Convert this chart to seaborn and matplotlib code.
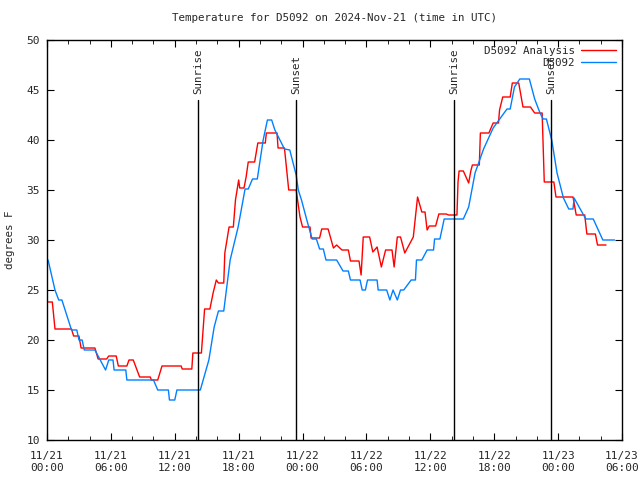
import matplotlib
matplotlib.use("Agg")
import matplotlib.pyplot as plt
import matplotlib.dates as mdates
import pandas as pd
import seaborn as sns

start = pd.Timestamp("2024-11-21 00:00")

# hours since 11/21 00:00 UTC and temperature (F)
obs_hours = [0.1, 0.75, 1.1, 1.4, 2.0, 2.3, 2.8, 3.0, 3.3, 3.5, 4.5, 5.5, 5.8, 6.2, 6.3, 7.4, 7.5, 10.0,
             10.4, 11.4, 11.5, 12.0, 12.2, 14.4, 15.2, 15.7, 16.1, 16.6, 17.2, 17.95, 18.6, 18.9, 19.3,
             19.75, 20.3, 20.7, 21.1, 21.4, 22.3, 22.8, 23.4, 23.6, 23.9, 24.4, 24.9, 25.3, 25.6, 25.95,
             26.2, 27.2, 27.8, 28.3, 28.5, 29.4, 29.6, 29.9, 30.1, 31.0, 31.1, 31.9, 32.2, 32.5, 32.9,
             33.2, 33.5, 34.2, 34.6, 34.7, 35.2, 35.7, 36.3, 36.4, 36.9, 37.3, 39.1, 39.6, 40.2, 41.0,
             41.9, 43.2, 43.5, 43.9, 44.4, 45.3, 45.8, 46.3, 46.6, 46.9, 47.4, 47.9, 48.5, 49.0, 49.4,
             49.5, 50.6, 51.3, 52.2, 53.3]
obs_temp = [28, 25, 24, 24, 22, 21, 21, 20, 20, 19, 19, 17, 18, 18, 17, 17, 16, 16,
            15, 15, 14, 14, 15, 15, 18, 21.3, 22.9, 22.9, 28, 31.3, 35.1, 35.1, 36.1,
            36.1, 40, 42, 42, 41, 39.1, 39, 36.5, 35, 34, 32, 30.1, 30.1, 29.1, 29.1,
            28, 28, 26.9, 26.9, 26, 26, 25, 25, 26, 26, 25, 25, 24, 25, 24,
            25, 25, 26, 26, 28, 28, 29, 29, 30.1, 30.1, 32.1, 32.1, 33.3, 36.7, 39.1,
            41.2, 43.1, 43.1, 45.3, 46.1, 46.1, 44.1, 42.7, 42.1, 42.1, 40, 36.7, 34.2, 33.1, 33.1,
            34.2, 32.1, 32.1, 30, 30]

ana_hours = [0.1, 0.5, 0.75, 2.3, 2.5, 3.0, 3.2, 4.5, 4.8, 5.6, 5.8, 6.5, 6.7, 7.5, 7.7, 8.1, 8.7, 9.7,
             9.8, 10.4, 10.8, 12.6, 12.7, 13.6, 13.7, 14.5, 14.8, 15.3, 15.6, 15.9, 16.1, 16.6, 16.7,
             17.1, 17.5, 17.7, 18.0, 18.1, 18.5, 18.7, 18.9, 19.5, 19.8, 20.5, 20.6, 21.6, 21.7, 22.3,
             22.7, 23.4, 23.76, 24.0, 24.7, 24.8, 25.6, 25.8, 26.4, 26.9, 27.2, 27.7, 28.3, 28.5, 29.3,
             29.5, 29.7, 30.3, 30.6, 31.0, 31.4, 31.8, 32.4, 32.6, 32.9, 33.2, 33.6, 34.4, 34.8, 35.2,
             35.5, 35.7, 35.9, 36.5, 36.8, 37.5, 37.7, 38.5, 38.6, 38.7, 39.1, 39.6, 39.8, 39.95, 40.6,
             40.7, 41.5, 41.9, 42.4, 42.5, 42.8, 43.5, 43.7, 44.3, 44.7, 45.4, 45.8, 46.5, 46.7, 47.6,
             47.8, 49.4, 49.7, 50.5, 50.7, 51.5, 51.7, 52.5]
ana_temp = [23.8, 23.8, 21.1, 21.1, 20.4, 20.4, 19.2, 19.2, 18.1, 18.1, 18.4, 18.4, 17.4, 17.4, 18, 18, 16.3, 16.3,
            16, 16, 17.4, 17.4, 17.1, 17.1, 18.7, 18.7, 23.1, 23.1, 24.7, 26, 25.7, 25.7, 28.7,
            31.3, 31.3, 34, 36, 35.2, 35.2, 36.3, 37.8, 37.8, 39.7, 39.7, 40.7, 40.7, 39.2, 39.2,
            35, 35, 32.3, 31.3, 31.3, 30.2, 30.2, 31.1, 31.1, 29.2, 29.5, 29, 29, 27.9, 27.9,
            26.5, 30.3, 30.3, 28.8, 29.3, 27.3, 29, 29, 27.3, 30.3, 30.3, 28.7, 30.3, 34.3, 32.8,
            32.8, 31, 31.4, 31.4, 32.6, 32.6, 32.5, 32.5, 35.8, 36.9, 36.9, 35.7, 36.9, 37.5, 37.5,
            40.7, 40.7, 41.7, 41.7, 43, 44.3, 44.3, 45.7, 45.7, 43.3, 43.3, 42.7, 42.7, 35.8, 35.8,
            34.3, 34.3, 32.5, 32.5, 30.6, 30.6, 29.5, 29.5]

sun_hours = [14.18, 23.38, 38.22, 47.33]
sun_labels = ["Sunrise", "Sunset", "Sunrise", "Sunset"]

ana = pd.DataFrame({"time": start + pd.to_timedelta(ana_hours, unit="h"), "temp": ana_temp})
obs = pd.DataFrame({"time": start + pd.to_timedelta(obs_hours, unit="h"), "temp": obs_temp})

sns.set_style("ticks")
plt.rcParams["font.family"] = ["DejaVu Sans Mono"]

fig = plt.figure(figsize=(6.4, 4.8), dpi=100)
ax = fig.add_axes([47/640, 40/480, 575/640, 400/480])

sns.lineplot(data=ana, x="time", y="temp", ax=ax, color="#ff0000", lw=1.0,
             sort=False, estimator=None, label="D5092 Analysis")
sns.lineplot(data=obs, x="time", y="temp", ax=ax, color="#0080ff", lw=1.0,
             sort=False, estimator=None, label="D5092")

for h, lab in zip(sun_hours, sun_labels):
    t = start + pd.Timedelta(hours=h)
    ax.plot([t, t], [10, 44], color="black", lw=1.0)
    ax.text(t, 44.6, lab, rotation=90, ha="center", va="bottom", fontsize=7.8)

ax.set_xlim(start, start + pd.Timedelta(hours=54))
ax.set_ylim(10, 50)
ax.set_yticks(range(10, 51, 5))
ax.xaxis.set_major_locator(mdates.HourLocator(byhour=[0, 6, 12, 18]))
ax.xaxis.set_minor_locator(mdates.HourLocator(byhour=range(0, 24, 2)))
ax.xaxis.set_major_formatter(mdates.DateFormatter("%m/%d\n%H:%M"))
ax.tick_params(which="both", direction="in", top=True, right=True, labelsize=8, color="black")
ax.tick_params(which="major", length=5)
ax.tick_params(which="minor", length=3)
ax.tick_params(axis="x", pad=8)
ax.tick_params(axis="y", pad=5)
for s in ax.spines.values():
    s.set_visible(True)
    s.set_color("black")
    s.set_linewidth(1.0)

ax.set_xlabel("")
ax.set_ylabel("")
ax.set_title("Temperature for D5092 on 2024-Nov-21 (time in UTC)", fontsize=7.8, pad=14)
fig.text(10/640, 0.5, "degrees F", rotation=90, ha="center", va="center", fontsize=7.8)

leg = ax.legend(loc="upper right", frameon=False, markerfirst=False, fontsize=7.8,
                handlelength=3.2, handletextpad=0.6, borderaxespad=0.25, borderpad=0.3,
                labelspacing=0.15)
for t in leg.get_texts():
    t.set_ha("right")

fig.savefig("out.png", dpi=100)
